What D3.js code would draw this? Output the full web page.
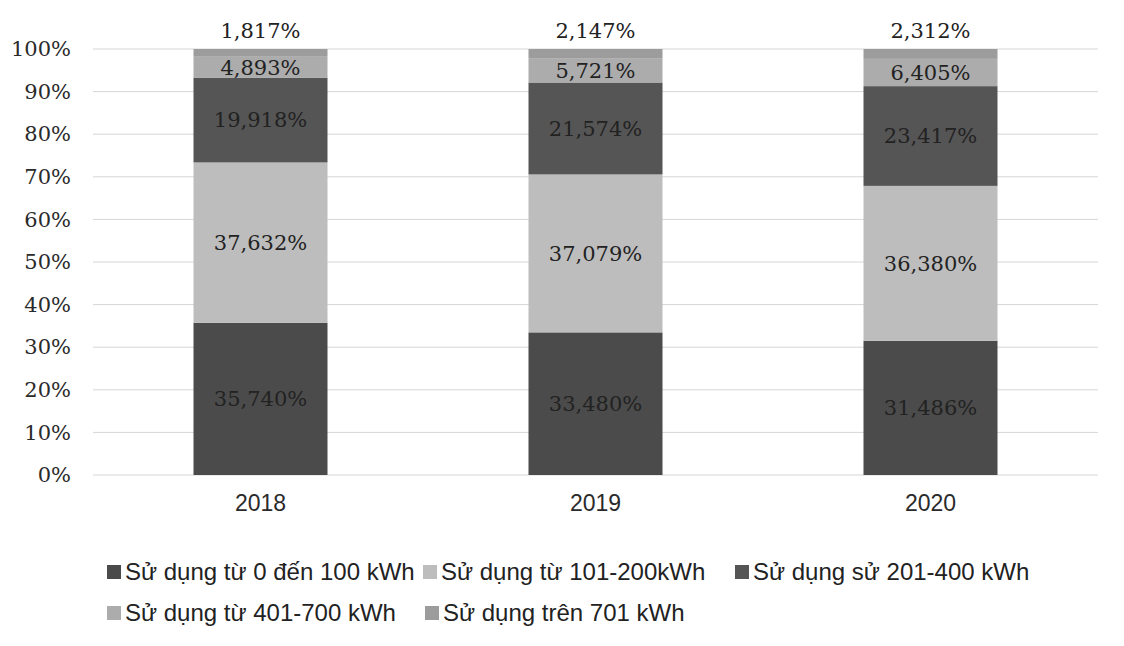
<!DOCTYPE html>
<html>
<head>
<meta charset="utf-8">
<script src="https://cdn.jsdelivr.net/npm/d3@7"></script>
<style>
  body { margin: 0; background: #fff; }
</style>
</head>
<body>
<div id="chart"></div>
<script>
// data
var years = ['2018', '2019', '2020'];
var seriesNames = [
  'Sử dụng từ 0 đến 100 kWh',
  'Sử dụng từ 101-200kWh',
  'Sử dụng sử 201-400 kWh',
  'Sử dụng từ 401-700 kWh',
  'Sử dụng trên 701 kWh'
];
var s0to100 = [35.740, 33.480, 31.486];
var s101to200 = [37.632, 37.079, 36.380];
var s201to400 = [19.918, 21.574, 23.417];
var s401to700 = [4.893, 5.721, 6.405];
var sAbove701 = [1.817, 2.147, 2.312];
var yTicks = [0, 10, 20, 30, 40, 50, 60, 70, 80, 90, 100];

var colors = ['#4b4b4b', '#bdbdbd', '#555555', '#acacac', '#9c9c9c'];

var width = 1124, height = 646;
var margin = { left: 93, right: 26, top: 49, bottom: 171 };
var serif = '"DejaVu Serif", "Liberation Serif", serif';
var sans = '"Liberation Sans", Arial, sans-serif';

var svg = d3.select('#chart').append('svg')
  .attr('width', width)
  .attr('height', height);

var seriesValues = [s0to100, s101to200, s201to400, s401to700, sAbove701];
var rows = years.map(function(y, i) {
  var r = { year: y };
  seriesNames.forEach(function(n, k) { r[n] = seriesValues[k][i]; });
  return r;
});
var stacked = d3.stack().keys(seriesNames)(rows);

var x = d3.scaleBand()
  .domain(years)
  .range([margin.left, width - margin.right])
  .paddingInner(0.6)
  .paddingOuter(0.3);

var y = d3.scaleLinear()
  .domain([0, 100])
  .range([height - margin.bottom, margin.top]);

// gridlines
svg.append('g')
  .selectAll('line')
  .data(yTicks)
  .enter()
  .append('line')
  .attr('x1', margin.left)
  .attr('x2', width - margin.right)
  .attr('y1', function(d) { return y(d); })
  .attr('y2', function(d) { return y(d); })
  .attr('stroke', '#d6d6d6')
  .attr('stroke-width', 1);

// y axis labels
var yAxis = d3.axisLeft(y)
  .tickValues(yTicks)
  .tickFormat(function(d) { return d + '%'; })
  .tickSize(0)
  .tickPadding(22);
var gy = svg.append('g')
  .attr('transform', 'translate(' + margin.left + ',0)')
  .call(yAxis);
gy.select('.domain').remove();
gy.selectAll('text')
  .attr('font-family', serif)
  .attr('font-size', 21)
  .attr('fill', '#2a2a2a');

// x axis labels
var xAxis = d3.axisBottom(x).tickSize(0).tickPadding(20);
var gx = svg.append('g')
  .attr('transform', 'translate(0,' + y(0) + ')')
  .call(xAxis);
gx.select('.domain').remove();
gx.selectAll('text')
  .attr('font-family', sans)
  .attr('font-size', 23)
  .attr('fill', '#2a2a2a');

// bars
var layers = svg.selectAll('.layer')
  .data(stacked)
  .enter()
  .append('g')
  .attr('class', 'layer')
  .attr('fill', function(d, i) { return colors[i]; });

layers.selectAll('rect')
  .data(function(d) { return d; })
  .enter()
  .append('rect')
  .attr('x', function(d) { return x(d.data.year); })
  .attr('width', x.bandwidth())
  .attr('y', function(d) { return y(d[1]); })
  .attr('height', function(d) { return y(d[0]) - y(d[1]); });

// data labels
function fmt(v) {
  return v.toFixed(3).replace('.', ',') + '%';
}
layers.selectAll('text')
  .data(function(d) { return d.map(function(p) { return { p: p, key: d.key, idx: d.index }; }); })
  .enter()
  .append('text')
  .attr('x', function(d) { return x(d.p.data.year) + x.bandwidth() / 2; })
  .attr('y', function(d) {
    if (d.idx === 4) return y(d.p[1]) - 18;
    return (y(d.p[0]) + y(d.p[1])) / 2;
  })
  .attr('dy', '0.35em')
  .attr('text-anchor', 'middle')
  .attr('font-family', serif)
  .attr('font-size', 21)
  .attr('fill', '#222')
  .text(function(d) { return fmt(d.p.data[d.key]); });

// legend
var legendPos = [
  { x: 107, y: 572 },
  { x: 423, y: 572 },
  { x: 735, y: 572 },
  { x: 107, y: 613 },
  { x: 425, y: 613 }
];
var legend = svg.selectAll('.legend')
  .data(seriesNames)
  .enter()
  .append('g')
  .attr('class', 'legend')
  .attr('transform', function(d, i) {
    return 'translate(' + legendPos[i].x + ',' + legendPos[i].y + ')';
  });
legend.append('rect')
  .attr('x', 0)
  .attr('y', -7)
  .attr('width', 14)
  .attr('height', 14)
  .attr('fill', function(d, i) { return colors[i]; });
legend.append('text')
  .attr('x', 18)
  .attr('dy', '0.35em')
  .attr('font-family', sans)
  .attr('font-size', 24)
  .attr('fill', '#222')
  .text(function(d) { return d; });
</script>
</body>
</html>
